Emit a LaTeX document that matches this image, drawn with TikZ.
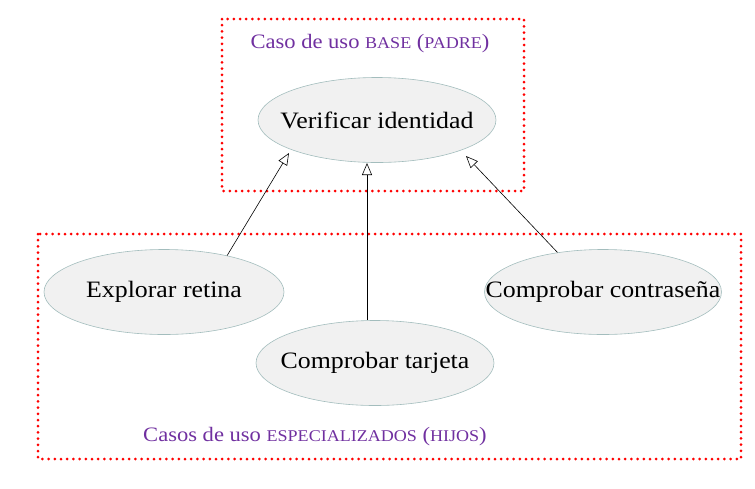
\documentclass[tikz,border=0pt]{standalone}
\usepackage{fontspec}
\setmainfont{Liberation Serif}[FakeStretch=1.1]
\usetikzlibrary{arrows.meta,shapes.geometric}
\definecolor{ucfill}{HTML}{F1F1F1}
\definecolor{ucdraw}{HTML}{A3BDBD}
\definecolor{capcol}{HTML}{7030A0}
\newcommand{\fakesc}[1]{{\fontsize{16.4}{18}\selectfont #1}}
\begin{document}
\begin{tikzpicture}[x=1pt,y=-1pt,
  usecase/.style={ellipse,draw=ucdraw,fill=ucfill,line width=0.6pt,minimum width=#1,minimum height=85pt,inner sep=0pt,font=\fontsize{23.5}{26}\selectfont},
  usecase/.default=238pt,
  groupbox/.style={draw=red,line width=3pt,line cap=round,dash pattern=on 0pt off 6.2pt},
  caption/.style={text=capcol,font=\fontsize{20.5}{23}\selectfont,inner sep=0pt},
  gen/.style={-{Triangle[open,length=12pt,width=10pt]},line width=0.6pt,black}]
\useasboundingbox (0,0) rectangle (755,488);
\draw[groupbox] (222,19) rectangle (524,191);
\draw[groupbox] (38,234) rectangle (741,459);
\node[caption] (capbase) at (370,44) {Caso de uso \fakesc{BASE} (\fakesc{PADRE})};
\node[caption] (capspec) at (315,437) {Casos de uso \fakesc{ESPECIALIZADOS} (\fakesc{HIJOS})};
\node[usecase] (ver) at (377,120) {\makebox[0pt]{Verificar identidad}};
\node[usecase=240pt] (ret) at (164,292) {\makebox[0pt]{Explorar retina}};
\node[usecase] (tar) at (375,363) {\makebox[0pt]{Comprobar tarjeta}};
\node[usecase=237pt] (con) at (603,292) {\makebox[0pt]{Comprobar contraseña}};
\coordinate (retend) at (289,153);
\coordinate (tarend) at (367,163);
\coordinate (conend) at (466,156);
\draw[gen] (ret.30) -- (retend);
\draw[gen] (tar.north -| tarend) -- (tarend);
\draw[gen] (con.139) -- (conend);
\end{tikzpicture}
\end{document}
